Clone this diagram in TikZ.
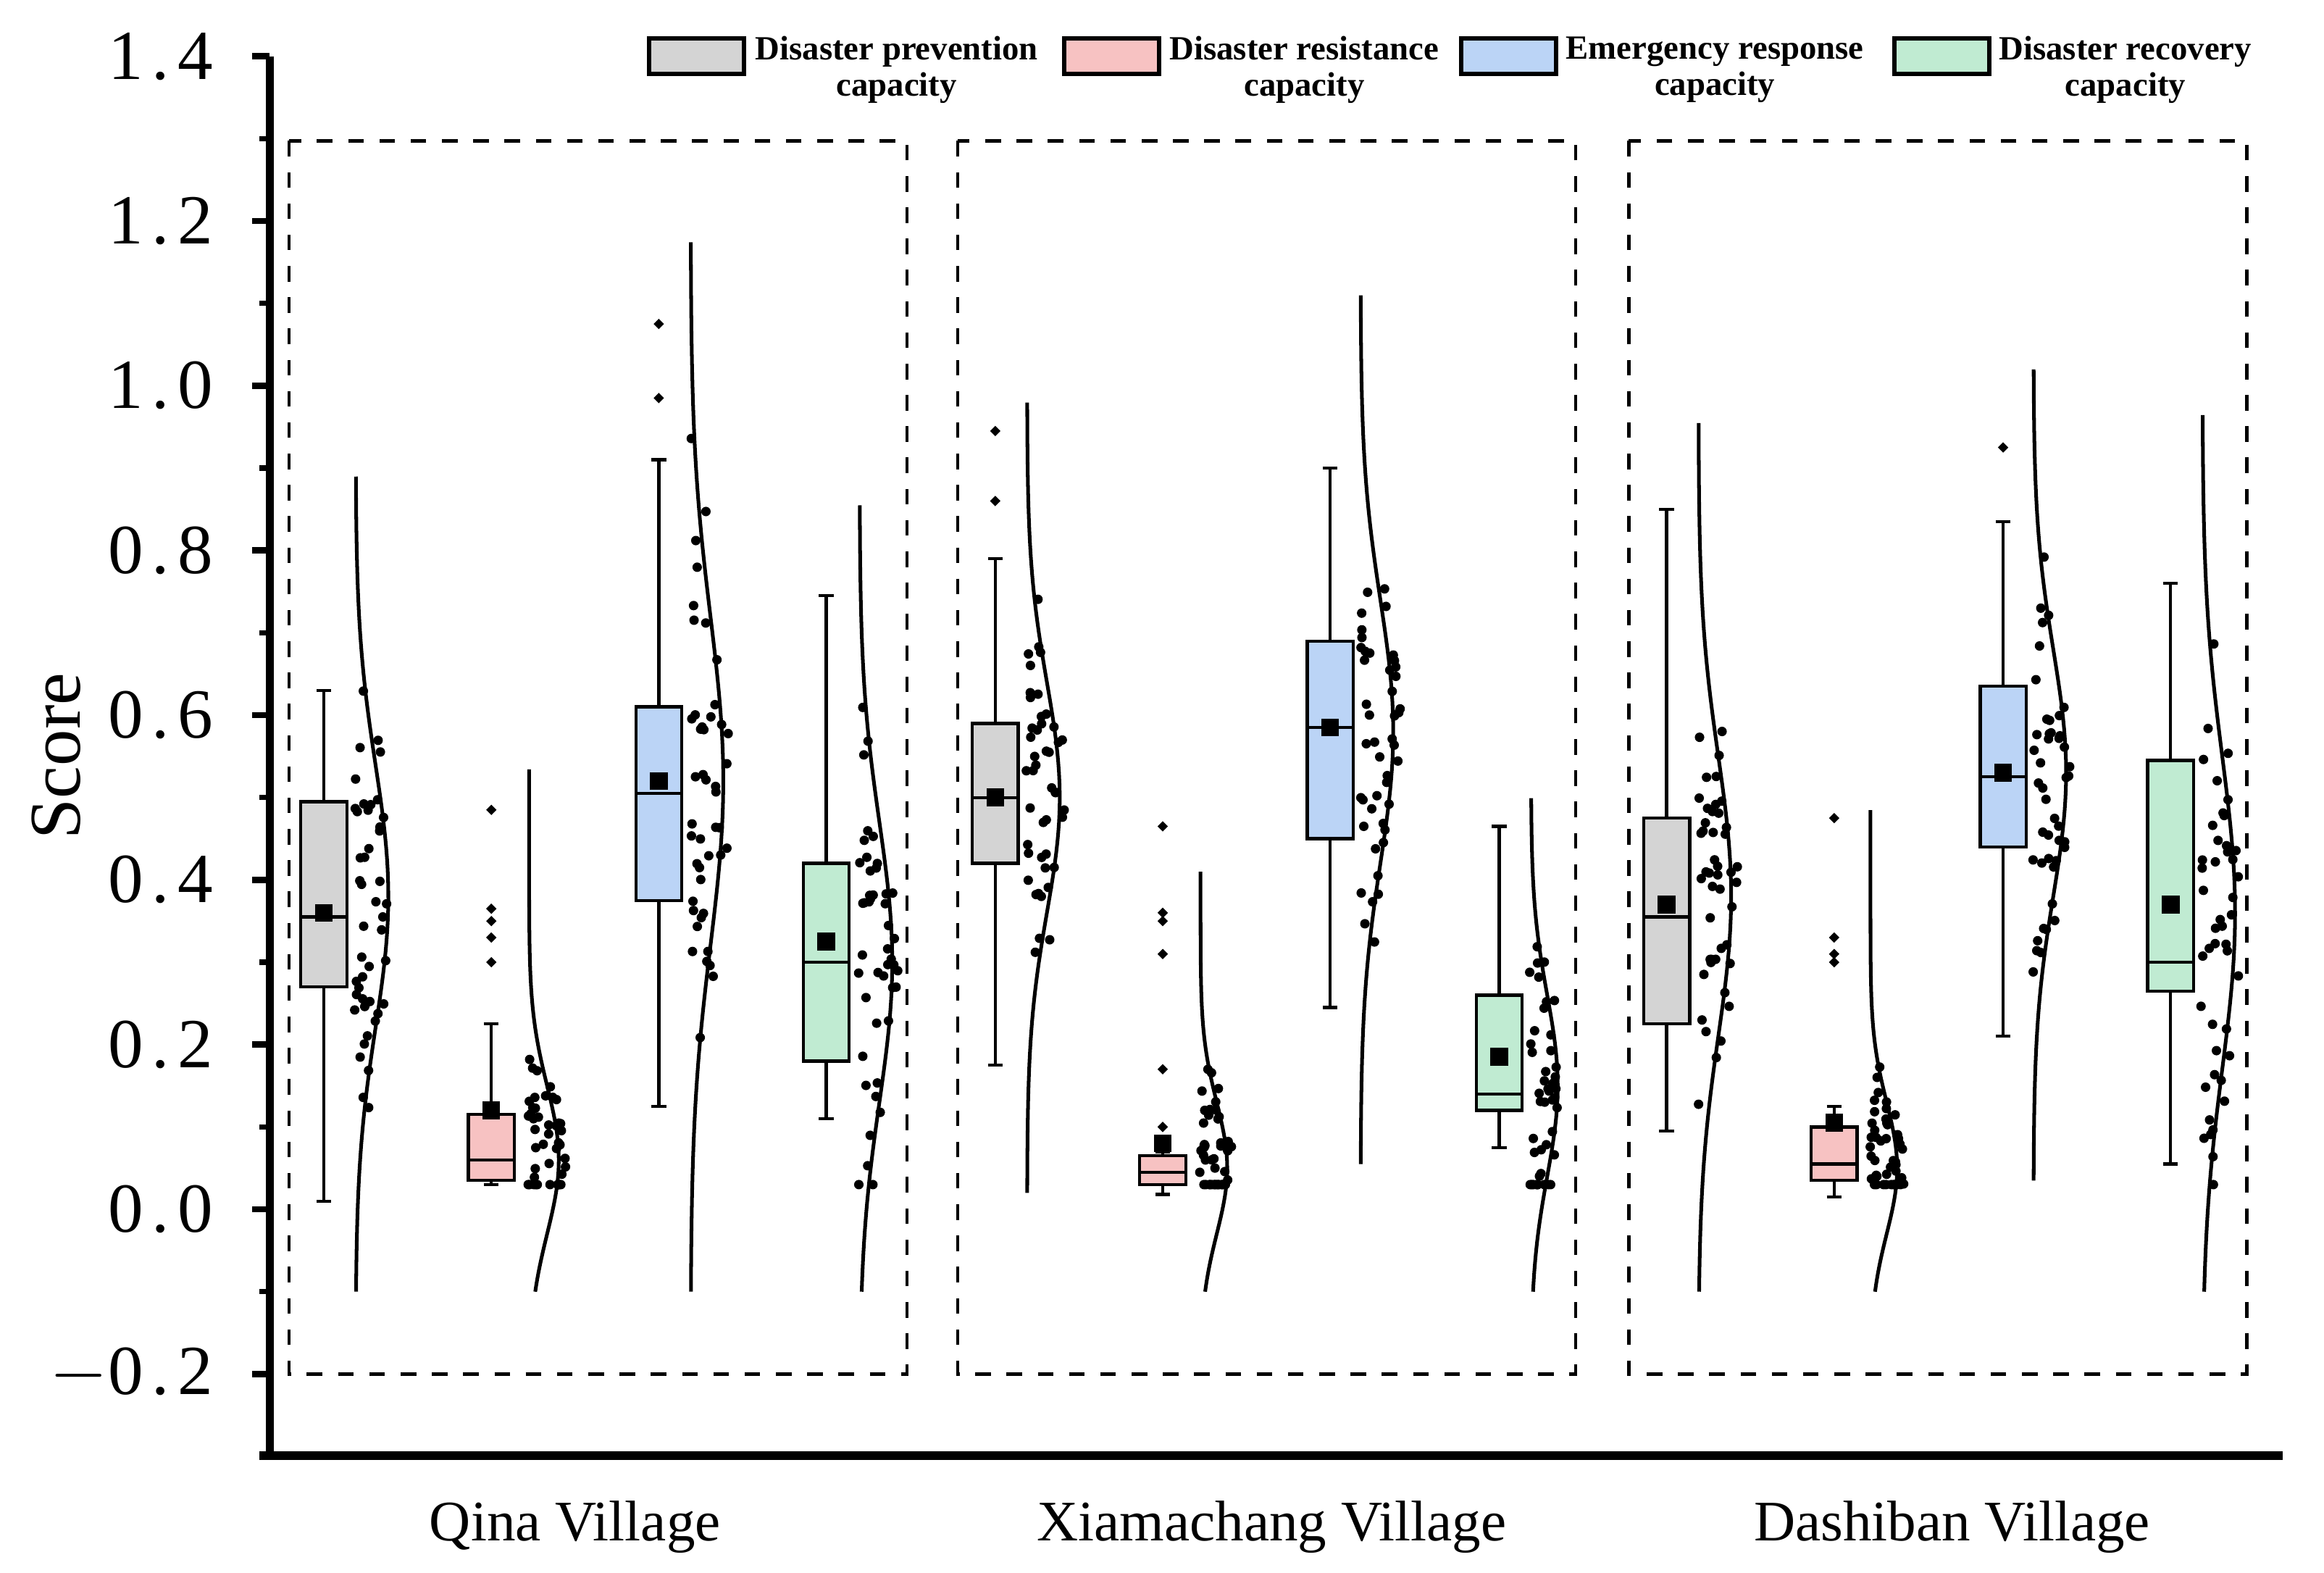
\documentclass[tikz,border=0pt]{standalone}
\usepackage{fontspec}
\setmainfont{Liberation Serif}
\begin{document}
\begin{tikzpicture}[x=0.01cm,y=-0.01cm,
  ax/.style={line width=1.6pt},
  bxs/.style={draw=black,line width=0.6pt},
  dframe/.style={dashed,line width=0.6pt},
  tl/.style={font=\fontsize{13.5}{14}\selectfont\addfontfeatures{LetterSpace=12},anchor=east},
  xl/.style={font=\fontsize{11}{12}\selectfont},
  lg/.style={font=\fontsize{6.5}{7}\selectfont\bfseries,align=center}]
\definecolor{cg}{HTML}{D4D4D4}
\definecolor{cp}{HTML}{F7C2C2}
\definecolor{cb}{HTML}{BBD4F6}
\definecolor{cr}{HTML}{C0EBD2}
\useasboundingbox (0,0) rectangle (1568,1061);
% dashed group frames
\draw[dframe] (195,95) rectangle (612,927);
\draw[dframe] (646,95) rectangle (1063,927);
\draw[dframe] (1099,95) rectangle (1516,927);
% axes
\draw[ax] (182,38) -- (182,982);
\draw[ax] (175,982) -- (1540,982);
\foreach \v/\t [count=\i] in {1.4/1.4,1.2/1.2,1.0/1.0,0.8/0.8,0.6/0.6,0.4/0.4,0.2/0.2,0.0/0.0,-0.2/$-$0.2}{
  \draw[line width=1.2pt] (182,{815.8-\v*555.6}) -- (170,{815.8-\v*555.6});
  \node[tl] (tk\i) at (156,{815.8-\v*555.6}) {\t};}
\foreach \v in {1.3,1.1,0.9,0.7,0.5,0.3,0.1,-0.1,-0.3}{
  \draw[line width=1.0pt] (182,{815.8-\v*555.6}) -- (175,{815.8-\v*555.6});}
\node[rotate=90,font=\fontsize{14}{14}\selectfont] (sc) at (38,510) {Score};
\node[xl] (x1) at (388,1030) {Qina Village};
\node[xl] (x2) at (858,1030) {Xiamachang Village};
\node[xl] (x3) at (1317,1030) {Dashiban Village};
% legend
\foreach \bx/\tx/\c/\t/\n in {438/605/cg/{Disaster prevention\\capacity}/a,718/880/cp/{Disaster resistance\\capacity}/b,986/1157/cb/{Emergency response\\capacity}/c,1278/1434/cr/{Disaster recovery\\capacity}/d}{
  \draw[fill=\c,line width=0.8pt] (\bx,26) rectangle ++(64,24);
  \node[lg] (l\n) at (\tx,47) {\t};}
% boxes
\foreach \x/\qa/\md/\qc/\wl/\wh/\mn/\c/\cx/\tp/\bt/\mu/\sg/\A/\sd in {
 203/.27/.355/.495/.01/.63/.36/cg/240/.89/-.1/.38/.16/22/11,
 316/.035/.06/.115/.03/.225/.12/cp/357/.535/-.1/.06/.09/20/12,
 429/.375/.505/.61/.125/.91/.52/cb/466/1.175/-.1/.52/.2/22/13,
 542/.18/.3/.42/.11/.745/.325/cr/580/.855/-.1/.3/.17/22/14,
 656/.42/.5/.59/.175/.79/.5/cg/693/.98/.02/.5/.14/22/15,
 769/.03/.045/.065/.018/.07/.08/cp/810/.41/-.1/.05/.08/18/16,
 882/.45/.585/.69/.245/.9/.585/cb/918/1.11/.055/.58/.16/22/17,
 996/.12/.14/.26/.075/.465/.185/cr/1033/.5/-.1/.15/.11/18/18,
 1109/.225/.355/.475/.095/.85/.37/cg/1146/.955/-.1/.38/.17/22/19,
 1222/.035/.055/.1/.015/.125/.105/cp/1262/.485/-.1/.05/.08/18/20,
 1336/.44/.525/.635/.21/.835/.53/cb/1372/1.02/.035/.53/.15/22/21,
 1449/.265/.3/.545/.055/.76/.37/cr/1486/.965/-.1/.36/.19/22/22}{
  \pgfmathsetmacro\xc{\x+15.5}
  \draw[line width=0.6pt] (\xc,{815.8-\wl*555.6}) -- (\xc,{815.8-\qa*555.6});
  \draw[line width=0.6pt] (\xc,{815.8-\qc*555.6}) -- (\xc,{815.8-\wh*555.6});
  \draw[line width=0.6pt] (\xc-5,{815.8-\wl*555.6}) -- (\xc+5,{815.8-\wl*555.6});
  \draw[line width=0.6pt] (\xc-5,{815.8-\wh*555.6}) -- (\xc+5,{815.8-\wh*555.6});
  \draw[bxs,fill=\c] (\x,{815.8-\qa*555.6}) rectangle (\x+31,{815.8-\qc*555.6});
  \draw[line width=0.6pt] (\x,{815.8-\md*555.6}) -- (\x+31,{815.8-\md*555.6});
  \fill (\xc-6,{815.8-\mn*555.6-6}) rectangle (\xc+6,{815.8-\mn*555.6+6});
  \draw[line width=0.7pt,domain=\bt:\tp,samples=80,variable=\v] plot ({\cx+\A*exp(-((\v-\mu)/\sg)^2/2)},{815.8-\v*555.6});
  \pgfmathsetseed{\sd}
  \foreach \k in {1,...,45}{
    \pgfmathsetmacro\vv{max(\bt+0.13,min(\tp-0.12,\mu+\sg*1.6*(rnd+rnd+rnd-1.5)))}
    \pgfmathsetmacro\xx{\cx+2+rnd*(\A*exp(-((\vv-\mu)/\sg)^2/2)+6)-3}
    \fill (\xx,{815.8-\vv*555.6}) circle (3.2);}
}
% outliers
\foreach \x/\v in {331.5/.3,331.5/.33,331.5/.35,331.5/.365,331.5/.485,
  444.5/.985,444.5/1.075,671.5/.86,671.5/.945,
  784.5/.1,784.5/.17,784.5/.31,784.5/.35,784.5/.36,784.5/.465,
  1237.5/.3,1237.5/.31,1237.5/.33,1237.5/.475,1351.5/.925}{
  \fill (\x,{815.8-\v*555.6-3.5}) -- (\x+3.5,{815.8-\v*555.6}) -- (\x,{815.8-\v*555.6+3.5}) -- (\x-3.5,{815.8-\v*555.6}) -- cycle;}
\end{tikzpicture}
\end{document}
